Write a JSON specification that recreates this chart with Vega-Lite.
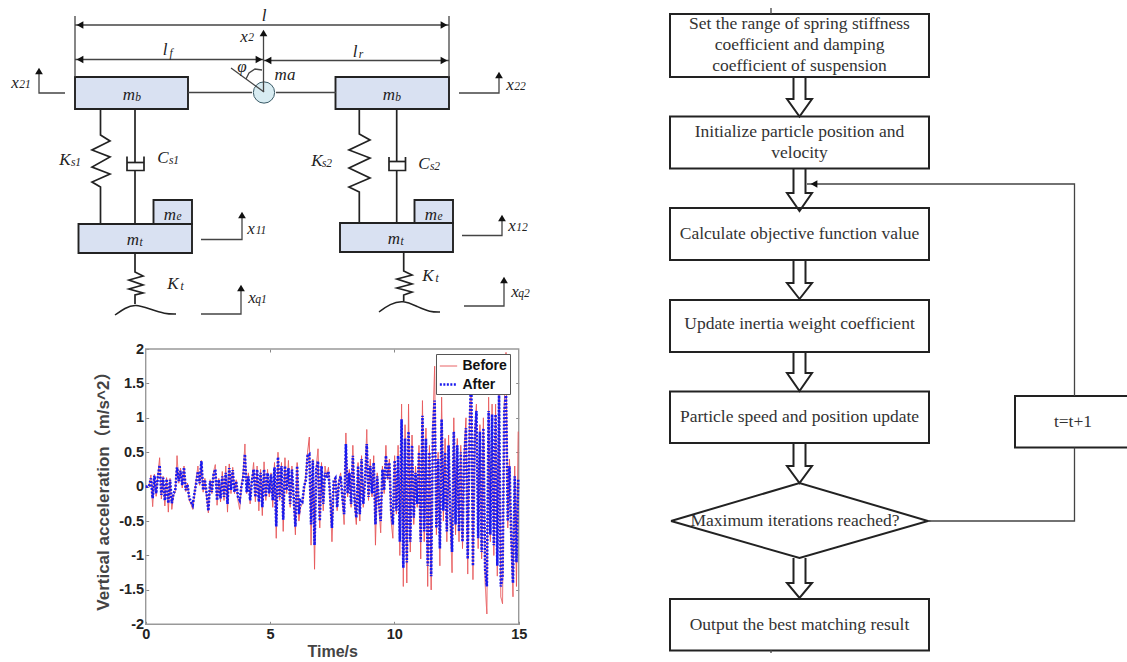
{
"$schema":"https://vega.github.io/schema/vega-lite/v6.json",
"width":1127,"height":662,"padding":0,"autosize":"none","background":"white",
"config":{"view":{"stroke":null}},
"datasets":{
"accel":[
{"t":0,"Before":0,"After":0},{"t":0.07,"Before":0,"After":0},{"t":0.14,"Before":0.02,"After":0.01},{"t":0.21,"Before":0.17,"After":0.12},{"t":0.28,"Before":-0.29,"After":-0.17},{"t":0.35,"Before":0.18,"After":0.16},{"t":0.42,"Before":-0.14,"After":-0.1},{"t":0.49,"Before":0.16,"After":0.14},{"t":0.56,"Before":0.42,"After":0.31},{"t":0.63,"Before":-0.18,"After":-0.12},{"t":0.7,"Before":0.15,"After":0.13},{"t":0.77,"Before":-0.28,"After":-0.2},{"t":0.84,"Before":0.13,"After":0.11},{"t":0.91,"Before":-0.37,"After":-0.24},{"t":0.98,"Before":0.12,"After":0.1},{"t":1.05,"Before":-0.33,"After":-0.24},{"t":1.12,"Before":-0.12,"After":-0.1},{"t":1.19,"Before":-0.08,"After":-0.05},{"t":1.26,"Before":0.45,"After":0.28},{"t":1.33,"Before":0.05,"After":0.08},{"t":1.4,"Before":0.27,"After":0.23},{"t":1.47,"Before":-0.02,"After":0.02},{"t":1.54,"Before":0.3,"After":0.28},{"t":1.61,"Before":-0.07,"After":-0.05},{"t":1.68,"Before":0.05,"After":0.03},{"t":1.75,"Before":-0.2,"After":-0.16},{"t":1.82,"Before":-0.25,"After":-0.22},{"t":1.89,"Before":-0.33,"After":-0.27},{"t":1.96,"Before":-0.12,"After":-0.1},{"t":2.03,"Before":0.1,"After":0.05},{"t":2.1,"Before":0.3,"After":0.22},{"t":2.17,"Before":0.02,"After":0.05},{"t":2.24,"Before":0.38,"After":0.37},{"t":2.31,"Before":-0.08,"After":-0.05},{"t":2.38,"Before":0.12,"After":0.1},{"t":2.45,"Before":-0.15,"After":-0.1},{"t":2.52,"Before":-0.38,"After":-0.35},{"t":2.59,"Before":0.1,"After":0.08},{"t":2.66,"Before":-0.1,"After":-0.08},{"t":2.73,"Before":0.22,"After":0.18},{"t":2.8,"Before":0.32,"After":0.25},{"t":2.87,"Before":-0.27,"After":-0.2},{"t":2.94,"Before":0.12,"After":0.1},{"t":3.01,"Before":-0.22,"After":-0.17},{"t":3.08,"Before":0.22,"After":0.15},{"t":3.15,"Before":-0.2,"After":-0.15},{"t":3.22,"Before":0.3,"After":0.2},{"t":3.29,"Before":-0.37,"After":-0.25},{"t":3.36,"Before":0.33,"After":0.27},{"t":3.43,"Before":-0.1,"After":-0.05},{"t":3.5,"Before":0.28,"After":0.24},{"t":3.57,"Before":-0.1,"After":-0.08},{"t":3.64,"Before":0.1,"After":0.08},{"t":3.71,"Before":-0.2,"After":-0.15},{"t":3.78,"Before":-0.33,"After":-0.2},{"t":3.85,"Before":0.02,"After":0},{"t":3.92,"Before":0.2,"After":0.12},{"t":3.99,"Before":0.62,"After":0.47},{"t":4.06,"Before":-0.1,"After":-0.08},{"t":4.13,"Before":0.2,"After":0.15},{"t":4.2,"Before":-0.25,"After":-0.2},{"t":4.27,"Before":0.1,"After":0.08},{"t":4.34,"Before":0.35,"After":0.25},{"t":4.41,"Before":-0.22,"After":-0.15},{"t":4.48,"Before":0.3,"After":0.25},{"t":4.55,"Before":-0.35,"After":-0.22},{"t":4.62,"Before":0.25,"After":0.2},{"t":4.69,"Before":-0.42,"After":-0.3},{"t":4.76,"Before":0.36,"After":0.25},{"t":4.83,"Before":-0.2,"After":-0.15},{"t":4.9,"Before":0.25,"After":0.2},{"t":4.97,"Before":-0.15,"After":-0.1},{"t":5.04,"Before":0.2,"After":0.18},{"t":5.11,"Before":-0.3,"After":-0.2},{"t":5.18,"Before":0.35,"After":0.28},{"t":5.25,"Before":-0.75,"After":-0.58},{"t":5.32,"Before":0.5,"After":0.43},{"t":5.39,"Before":-0.2,"After":-0.15},{"t":5.46,"Before":0.35,"After":0.3},{"t":5.53,"Before":-0.65,"After":-0.48},{"t":5.6,"Before":0.42,"After":0.3},{"t":5.67,"Before":-0.1,"After":-0.05},{"t":5.74,"Before":0.38,"After":0.27},{"t":5.81,"Before":-0.3,"After":-0.25},{"t":5.88,"Before":0.3,"After":0.25},{"t":5.95,"Before":-0.2,"After":-0.15},{"t":6.02,"Before":-0.7,"After":-0.58},{"t":6.09,"Before":0.35,"After":0.3},{"t":6.16,"Before":-0.5,"After":-0.4},{"t":6.23,"Before":-0.3,"After":-0.2},{"t":6.3,"Before":-0.25,"After":-0.22},{"t":6.37,"Before":-0.05,"After":0},{"t":6.44,"Before":0.15,"After":0.1},{"t":6.51,"Before":0.5,"After":0.45},{"t":6.58,"Before":0.72,"After":0.47},{"t":6.65,"Before":-0.85,"After":-0.55},{"t":6.72,"Before":0.4,"After":0.38},{"t":6.79,"Before":-1.2,"After":-0.85},{"t":6.86,"Before":0.3,"After":0.25},{"t":6.93,"Before":0.55,"After":0.37},{"t":7,"Before":-0.6,"After":-0.5},{"t":7.07,"Before":0.35,"After":0.3},{"t":7.14,"Before":-0.35,"After":-0.25},{"t":7.21,"Before":0.3,"After":0.2},{"t":7.28,"Before":0.15,"After":0.12},{"t":7.35,"Before":0.28,"After":0.22},{"t":7.42,"Before":-0.2,"After":-0.15},{"t":7.49,"Before":-0.8,"After":-0.6},{"t":7.56,"Before":0.05,"After":0.08},{"t":7.63,"Before":0.15,"After":0.12},{"t":7.7,"Before":-0.35,"After":-0.3},{"t":7.77,"Before":0.1,"After":0.05},{"t":7.84,"Before":0.2,"After":0.15},{"t":7.91,"Before":-0.2,"After":-0.15},{"t":7.98,"Before":-0.55,"After":-0.4},{"t":8.05,"Before":0.78,"After":0.62},{"t":8.12,"Before":-0.15,"After":-0.1},{"t":8.19,"Before":0.25,"After":0.2},{"t":8.26,"Before":-0.3,"After":-0.25},{"t":8.33,"Before":0.6,"After":0.45},{"t":8.4,"Before":-0.25,"After":-0.2},{"t":8.47,"Before":-0.55,"After":-0.45},{"t":8.54,"Before":0.35,"After":0.3},{"t":8.61,"Before":-0.5,"After":-0.4},{"t":8.68,"Before":0.45,"After":0.4},{"t":8.75,"Before":-0.3,"After":-0.25},{"t":8.82,"Before":0.1,"After":0.08},{"t":8.89,"Before":0.83,"After":0.62},{"t":8.96,"Before":-0.2,"After":-0.15},{"t":9.03,"Before":0.4,"After":0.3},{"t":9.1,"Before":-0.15,"After":-0.1},{"t":9.17,"Before":0.45,"After":0.35},{"t":9.24,"Before":-0.85,"After":-0.55},{"t":9.31,"Before":0.2,"After":0.15},{"t":9.38,"Before":-0.3,"After":-0.22},{"t":9.45,"Before":-0.67,"After":-0.5},{"t":9.52,"Before":0.3,"After":0.25},{"t":9.59,"Before":-0.1,"After":-0.05},{"t":9.66,"Before":0.6,"After":0.45},{"t":9.73,"Before":0.1,"After":0.12},{"t":9.8,"Before":0.4,"After":0.35},{"t":9.87,"Before":-0.5,"After":-0.35},{"t":9.94,"Before":-0.75,"After":-0.55},{"t":10.01,"Before":0.45,"After":0.38},{"t":10.08,"Before":-0.4,"After":-0.35},{"t":10.15,"Before":0.6,"After":0.45},{"t":10.22,"Before":-1,"After":-0.8},{"t":10.29,"Before":1.2,"After":0.98},{"t":10.36,"Before":-1.45,"After":-1.18},{"t":10.43,"Before":0.9,"After":0.7},{"t":10.5,"Before":-1.4,"After":-1.1},{"t":10.57,"Before":1.2,"After":0.8},{"t":10.64,"Before":-0.95,"After":-0.8},{"t":10.71,"Before":0.75,"After":0.6},{"t":10.78,"Before":-0.55,"After":-0.45},{"t":10.85,"Before":0.3,"After":0.2},{"t":10.92,"Before":-0.3,"After":-0.25},{"t":10.99,"Before":0.6,"After":0.5},{"t":11.06,"Before":-1.05,"After":-0.8},{"t":11.13,"Before":1.25,"After":1.03},{"t":11.2,"Before":-0.8,"After":-0.65},{"t":11.27,"Before":0.85,"After":0.7},{"t":11.34,"Before":-1.45,"After":-1.15},{"t":11.41,"Before":0.6,"After":0.5},{"t":11.48,"Before":-1.5,"After":-1.3},{"t":11.55,"Before":0.9,"After":0.8},{"t":11.62,"Before":1.75,"After":1.25},{"t":11.69,"Before":-0.7,"After":-0.6},{"t":11.76,"Before":0.5,"After":0.4},{"t":11.83,"Before":-1.15,"After":-0.9},{"t":11.9,"Before":1.3,"After":0.98},{"t":11.97,"Before":-0.5,"After":-0.35},{"t":12.04,"Before":0.7,"After":0.5},{"t":12.11,"Before":-0.8,"After":-0.65},{"t":12.18,"Before":0.75,"After":0.6},{"t":12.25,"Before":-0.5,"After":-0.4},{"t":12.32,"Before":-1.25,"After":-0.95},{"t":12.39,"Before":1,"After":0.8},{"t":12.46,"Before":-0.7,"After":-0.55},{"t":12.53,"Before":0.7,"After":0.6},{"t":12.6,"Before":-0.8,"After":-0.65},{"t":12.67,"Before":0.6,"After":0.5},{"t":12.74,"Before":-0.9,"After":-0.8},{"t":12.81,"Before":0.5,"After":0.4},{"t":12.88,"Before":1,"After":0.85},{"t":12.95,"Before":-1.27,"After":-1.05},{"t":13.02,"Before":0.9,"After":0.7},{"t":13.09,"Before":1.6,"After":1.7},{"t":13.16,"Before":-1.35,"After":-1.15},{"t":13.23,"Before":0.8,"After":0.7},{"t":13.3,"Before":1.2,"After":1.1},{"t":13.37,"Before":-0.9,"After":-0.75},{"t":13.44,"Before":0.9,"After":0.8},{"t":13.51,"Before":-1.05,"After":-0.95},{"t":13.58,"Before":1,"After":0.85},{"t":13.65,"Before":-1.4,"After":-1.2},{"t":13.72,"Before":-1.85,"After":-1.45},{"t":13.79,"Before":1.3,"After":1.1},{"t":13.86,"Before":-0.8,"After":-0.7},{"t":13.93,"Before":1.2,"After":1.05},{"t":14,"Before":-1,"After":-0.85},{"t":14.07,"Before":1.2,"After":1.05},{"t":14.14,"Before":-1.3,"After":-1.15},{"t":14.21,"Before":1.35,"After":1.35},{"t":14.28,"Before":-1.6,"After":-1.45},{"t":14.35,"Before":-1.7,"After":-1.3},{"t":14.42,"Before":1.2,"After":1.1},{"t":14.49,"Before":1.95,"After":1.35},{"t":14.56,"Before":-0.6,"After":-0.5},{"t":14.63,"Before":0.4,"After":0.3},{"t":14.7,"Before":-0.8,"After":-0.7},{"t":14.77,"Before":-1.6,"After":-1.4},{"t":14.84,"Before":0.3,"After":0.15},{"t":14.91,"Before":-1.45,"After":-1.1},{"t":14.98,"Before":0.8,"After":0.1}
],
"bodies":[
{"name":"body left","x":75,"x2":188,"y":77,"y2":109},
{"name":"body right","x":335.5,"x2":449,"y":77,"y2":109},
{"name":"engine left","x":153.5,"x2":192,"y":200,"y2":224},
{"name":"engine right","x":414.5,"x2":453,"y":200,"y2":223},
{"name":"tyre left","x":78.5,"x2":192,"y":224,"y2":253},
{"name":"tyre right","x":340,"x2":453,"y":223,"y2":252}
],
"hub":[{"x":264,"y":92.5}],
"thin":[
{"id":"limit left","xs":[75,75],"ys":[16,77]},
{"id":"limit right","xs":[449,449],"ys":[16,77]},
{"id":"l","xs":[75,449],"ys":[25,25]},
{"id":"lf","xs":[75,263],"ys":[59.5,59.5]},
{"id":"lr","xs":[264,449],"ys":[60.5,60.5]},
{"id":"x2","xs":[263.5,263.5],"ys":[32,92]},
{"id":"link left","xs":[188,252],"ys":[92.5,92.5]},
{"id":"link right","xs":[276,336],"ys":[92.5,92.5]},
{"id":"phi","xs":[264,231],"ys":[92,68]},
{"id":"phi arc","xs":[262,255,249,246],"ys":[70,69,73,79]},
{"id":"x21","xs":[39,39,65],"ys":[72,93,93]},
{"id":"x22","xs":[459,499,499],"ys":[93,93,75]},
{"id":"x11","xs":[201,242,242],"ys":[239.5,239.5,215]},
{"id":"x12","xs":[462,502,502],"ys":[235.5,235.5,217]},
{"id":"xq1","xs":[201,241,241],"ys":[314,314,287]},
{"id":"xq2","xs":[464,504,504],"ys":[306,306,279]}
],
"thick":[
{"id":"Ks1","xs":[100.5,100.5,110,92,110,92,110,92,100.5,100.5],"ys":[109,135,141,150,157,167,174,182,187,224]},
{"id":"Cs1 rod top","xs":[135,135],"ys":[109,162.5]},
{"id":"Cs1 cup","xs":[127,127,144,144],"ys":[156.5,170.5,170.5,156.5]},
{"id":"Cs1 piston","xs":[127,144],"ys":[162.5,162.5]},
{"id":"Cs1 rod low","xs":[135,135],"ys":[170.5,224]},
{"id":"Kt1","xs":[135,135,143,129,143,129,143,135,135],"ys":[253,272,276,280,285,289,293,295,304]},
{"id":"Ks2","xs":[359.3,359.3,370,349,370,349,370,349,359.3,359.3],"ys":[109,134,140,150,158,168,178,187,192,222.5]},
{"id":"Cs2 rod top","xs":[396.7,396.7],"ys":[109,161.5]},
{"id":"Cs2 cup","xs":[389,389,405.5,405.5],"ys":[157,170.5,170.5,157]},
{"id":"Cs2 piston","xs":[389,405.5],"ys":[161.5,161.5]},
{"id":"Cs2 rod low","xs":[396.7,396.7],"ys":[170.5,222.5]},
{"id":"Kt2","xs":[403.7,403.7,412,397,412,397,412,403.7,403.7],"ys":[252,271,275,279,284,288,292,295,301]}
],
"roads":[
{"id":"road1","xs":[115,125,135,150,165,176],"ys":[315,308,304,309,314,314]},
{"id":"road2","xs":[379,390,403,418,430,440],"ys":[312,304,300,307,312,312]}
],
"heads":[
{"x":80,"y":25,"dir":"triangle-left"},{"x":444,"y":25,"dir":"triangle-right"},
{"x":80,"y":59.5,"dir":"triangle-left"},{"x":259,"y":59.5,"dir":"triangle-right"},
{"x":268,"y":60.5,"dir":"triangle-left"},{"x":444,"y":60.5,"dir":"triangle-right"},
{"x":263.5,"y":33,"dir":"triangle-up"},{"x":39,"y":71,"dir":"triangle-up"},
{"x":499,"y":75,"dir":"triangle-up"},{"x":242,"y":215,"dir":"triangle-up"},
{"x":502,"y":218,"dir":"triangle-up"},{"x":241,"y":288,"dir":"triangle-up"},
{"x":504,"y":280,"dir":"triangle-up"},{"x":814,"y":184,"dir":"triangle-left"}
],
"symbols":[
{"x":264,"y":16,"label":"l"},{"x":244,"y":37,"label":"x"},{"x":165,"y":50,"label":"l"},
{"x":242,"y":67,"label":"φ"},{"x":285,"y":75,"label":"ma"},{"x":355,"y":52,"label":"l"},
{"x":15,"y":83,"label":"x"},{"x":510,"y":85,"label":"x"},{"x":129,"y":95,"label":"m"},
{"x":389,"y":95,"label":"m"},{"x":65,"y":160,"label":"K"},{"x":163,"y":158,"label":"C"},
{"x":317,"y":161,"label":"K"},{"x":424,"y":164,"label":"C"},{"x":170,"y":215,"label":"m"},
{"x":431,"y":215,"label":"m"},{"x":133,"y":240,"label":"m"},{"x":394,"y":239,"label":"m"},
{"x":251,"y":229,"label":"x"},{"x":512,"y":226,"label":"x"},{"x":173,"y":284,"label":"K"},
{"x":428,"y":276,"label":"K"},{"x":252,"y":298,"label":"x"},{"x":515,"y":292,"label":"x"}
],
"subs":[
{"x":251,"y":38,"label":"2"},{"x":171,"y":54,"label":"f"},{"x":361,"y":55,"label":"r"},
{"x":25,"y":85,"label":"21"},{"x":520,"y":87,"label":"22"},{"x":138,"y":98,"label":"b"},
{"x":398,"y":98,"label":"b"},{"x":76,"y":163,"label":"s1"},{"x":174,"y":161,"label":"s1"},
{"x":327,"y":164,"label":"s2"},{"x":435,"y":167,"label":"s2"},{"x":179,"y":217,"label":"e"},
{"x":440,"y":217,"label":"e"},{"x":141,"y":243,"label":"t"},{"x":402,"y":242,"label":"t"},
{"x":261,"y":231,"label":"11"},{"x":522,"y":228,"label":"12"},{"x":182,"y":287,"label":"t"},
{"x":437,"y":279,"label":"t"},{"x":261,"y":300,"label":"q1"},{"x":524,"y":294,"label":"q2"}
],
"steps":[
{"name":"range","x":670,"x2":929,"y":14,"y2":77},
{"name":"init","x":670,"x2":929,"y":116.5,"y2":168.5},
{"name":"objective","x":670,"x2":929,"y":208,"y2":260},
{"name":"inertia","x":670,"x2":929,"y":300,"y2":352},
{"name":"update","x":670,"x2":929,"y":391.5,"y2":443},
{"name":"output","x":670,"x2":929,"y":599,"y2":650.5}
],
"flowThick":[
{"id":"decision","xs":[671,799.5,928,799.5,671],"ys":[521,483,521,558,521]},
{"id":"a1","xs":[793.5,793.5,787,799.5,812,805.5,805.5],"ys":[77,99,99,116.5,99,99,77]},
{"id":"a2","xs":[793.5,793.5,787,799.5,812,805.5,805.5],"ys":[168.5,193,193,211,193,193,168.5]},
{"id":"a3","xs":[793.5,793.5,787,799.5,812,805.5,805.5],"ys":[260,283,283,299,283,283,260]},
{"id":"a4","xs":[793.5,793.5,787,799.5,812,805.5,805.5],"ys":[352,373,373,391,373,373,352]},
{"id":"a5","xs":[793.5,793.5,787,799.5,812,805.5,805.5],"ys":[443,466,466,483,466,466,443]},
{"id":"a6","xs":[793.5,793.5,787,799.5,812,805.5,805.5],"ys":[558,583,583,598,583,583,558]},
{"id":"counter","xs":[1127,1015,1015,1127],"ys":[396,396,447.5,447.5]}
],
"flowThin":[
{"id":"back low","xs":[928,1074.5,1074.5],"ys":[521,521,447.5]},
{"id":"back high","xs":[1074.5,1074.5,807],"ys":[396,184,184]},
{"id":"mark top","xs":[771,771],"ys":[8,14]},
{"id":"mark low","xs":[771,771],"ys":[650,653]}
],
"flowText":[
{"x":799.5,"y":24,"label":"Set the range of spring stiffness"},
{"x":799.5,"y":45,"label":"coefficient and damping"},
{"x":799.5,"y":66,"label":"coefficient of suspension"},
{"x":799.5,"y":131.5,"label":"Initialize particle position and"},
{"x":799.5,"y":153,"label":"velocity"},
{"x":799.5,"y":233.5,"label":"Calculate objective function value"},
{"x":799.5,"y":324,"label":"Update inertia weight coefficient"},
{"x":799.5,"y":417,"label":"Particle speed and position update"},
{"x":795,"y":521,"label":"Maximum iterations reached?"},
{"x":799.5,"y":624.5,"label":"Output the best matching result"},
{"x":1073,"y":422,"label":"t=t+1"}
]
},
"resolve":{"scale":{"x":"independent","y":"independent"},"axis":{"x":"independent","y":"independent"}},
"layer":[
{
"encoding":{
"x":{"field":"x","type":"quantitative","axis":null,"scale":{"domain":[0,1127],"range":[0,1127]}},
"y":{"field":"y","type":"quantitative","axis":null,"scale":{"domain":[0,662],"range":[0,662]}}
},
"layer":[
{"data":{"name":"bodies"},"mark":{"type":"rect","fill":"#d9e1f2","stroke":"#222222","strokeWidth":1.9},"encoding":{"x2":{"field":"x2"},"y2":{"field":"y2"}}},
{"data":{"name":"hub"},"mark":{"type":"point","shape":"circle","size":452,"filled":true,"fill":"#d8ecf2","stroke":"#3a5a66","strokeWidth":1,"opacity":1}},
{"data":{"name":"thin"},"transform":[{"flatten":["xs","ys"],"as":["x","y"]}],"mark":{"type":"line","stroke":"#444444","strokeWidth":1.3},"encoding":{"detail":{"field":"id"},"order":{"value":null}}},
{"data":{"name":"thick"},"transform":[{"flatten":["xs","ys"],"as":["x","y"]}],"mark":{"type":"line","stroke":"#222222","strokeWidth":1.7},"encoding":{"detail":{"field":"id"},"order":{"value":null}}},
{"data":{"name":"roads"},"transform":[{"flatten":["xs","ys"],"as":["x","y"]}],"mark":{"type":"line","stroke":"#222222","strokeWidth":1.5,"interpolate":"basis"},"encoding":{"detail":{"field":"id"},"order":{"value":null}}},
{"data":{"name":"steps"},"mark":{"type":"rect","fill":"#ffffff","stroke":"#222222","strokeWidth":2},"encoding":{"x2":{"field":"x2"},"y2":{"field":"y2"}}},
{"data":{"name":"flowThick"},"transform":[{"flatten":["xs","ys"],"as":["x","y"]}],"mark":{"type":"line","stroke":"#222222","strokeWidth":2},"encoding":{"detail":{"field":"id"},"order":{"value":null}}},
{"data":{"name":"flowThin"},"transform":[{"flatten":["xs","ys"],"as":["x","y"]}],"mark":{"type":"line","stroke":"#444444","strokeWidth":1.3},"encoding":{"detail":{"field":"id"},"order":{"value":null}}},
{"data":{"name":"heads"},"mark":{"type":"point","filled":true,"fill":"#111111","stroke":null,"size":60,"opacity":1},"encoding":{"shape":{"field":"dir","type":"nominal","scale":null}}},
{"data":{"name":"symbols"},"mark":{"type":"text","font":"Liberation Serif","fontStyle":"italic","fontSize":17,"fill":"#222222"},"encoding":{"text":{"field":"label"}}},
{"data":{"name":"subs"},"mark":{"type":"text","font":"Liberation Serif","fontStyle":"italic","fontSize":11.5,"fill":"#222222"},"encoding":{"text":{"field":"label"}}},
{"data":{"name":"flowText"},"mark":{"type":"text","font":"Liberation Serif","fontSize":17.5,"fill":"#333333"},"encoding":{"text":{"field":"label"}}}
]
},
{
"data":{"values":[{"frame":"plot"}]},
"mark":{"type":"rect","fill":null,"stroke":"#999999","strokeWidth":1.4},
"encoding":{
"x":{"datum":0,"type":"quantitative","scale":{"domain":[0,15],"range":[145.7,518.7]},"axis":{"orient":"top","offset":-349,"values":[5,10],"labels":false,"domain":false,"tickSize":-3,"tickColor":"#888888","title":null,"grid":false}},
"x2":{"datum":15},
"y":{"datum":-2,"type":"quantitative","scale":{"domain":[-2,2],"range":[624.3,349]},"axis":{"orient":"right","offset":-608.3,"values":[-1.5,-1,-0.5,0,0.5,1,1.5],"labels":false,"domain":false,"tickSize":-3,"tickColor":"#888888","title":null,"grid":false}},
"y2":{"datum":2}
}
},
{
"data":{"name":"accel"},
"transform":[{"fold":["Before","After"],"as":["series","accel"]}],
"mark":{"type":"line","interpolate":"linear"},
"encoding":{
"x":{"field":"t","type":"quantitative","scale":{"domain":[0,15],"range":[145.7,518.7]},
"axis":{"orient":"bottom","offset":-37.7,"values":[0,5,10,15],"title":"Time/s","titleFont":"Liberation Sans","titleFontWeight":"bold","titleFontSize":16,"titleColor":"#444444","titlePadding":3,"labelFont":"Liberation Sans","labelFontWeight":"bold","labelFontSize":14.5,"labelColor":"#222222","domain":false,"tickSize":-3,"tickColor":"#888888","grid":false,"labelPadding":6,"labelFlush":false,"labelOverlap":false}},
"y":{"field":"accel","type":"quantitative","scale":{"domain":[-2,2],"range":[624.3,349]},
"axis":{"orient":"left","offset":-145.7,"values":[-2,-1.5,-1,-0.5,0,0.5,1,1.5,2],"labelExpr":"toString(datum.value)","title":"Vertical acceleration（m/s^2）","titleFont":"Liberation Sans, Noto Sans CJK SC","titleFontWeight":"bold","titleFontSize":17,"titleColor":"#444444","titlePadding":6,"labelFont":"Liberation Sans","labelFontWeight":"bold","labelFontSize":14.5,"labelColor":"#222222","domain":false,"tickSize":-3,"tickColor":"#888888","grid":false,"labelPadding":5,"labelFlush":false,"labelOverlap":false}},
"color":{"field":"series","type":"nominal","scale":{"domain":["Before","After"],"range":["#e8585a","#1a1aee"]},
"legend":{"orient":"none","legendX":436,"legendY":354,"title":null,"fillColor":"#ffffff","strokeColor":"#555555","padding":2.5,"labelFont":"Liberation Sans","labelFontWeight":"bold","labelFontSize":14,"labelColor":"#111111","symbolType":"stroke","symbolSize":300,"rowPadding":1}},
"strokeDash":{"field":"series","type":"nominal","scale":{"domain":["Before","After"],"range":[[1,0],[2,1.5]]}},
"strokeWidth":{"field":"series","type":"nominal","scale":{"domain":["Before","After"],"range":[1,2.6]}}
}
}
]
}
